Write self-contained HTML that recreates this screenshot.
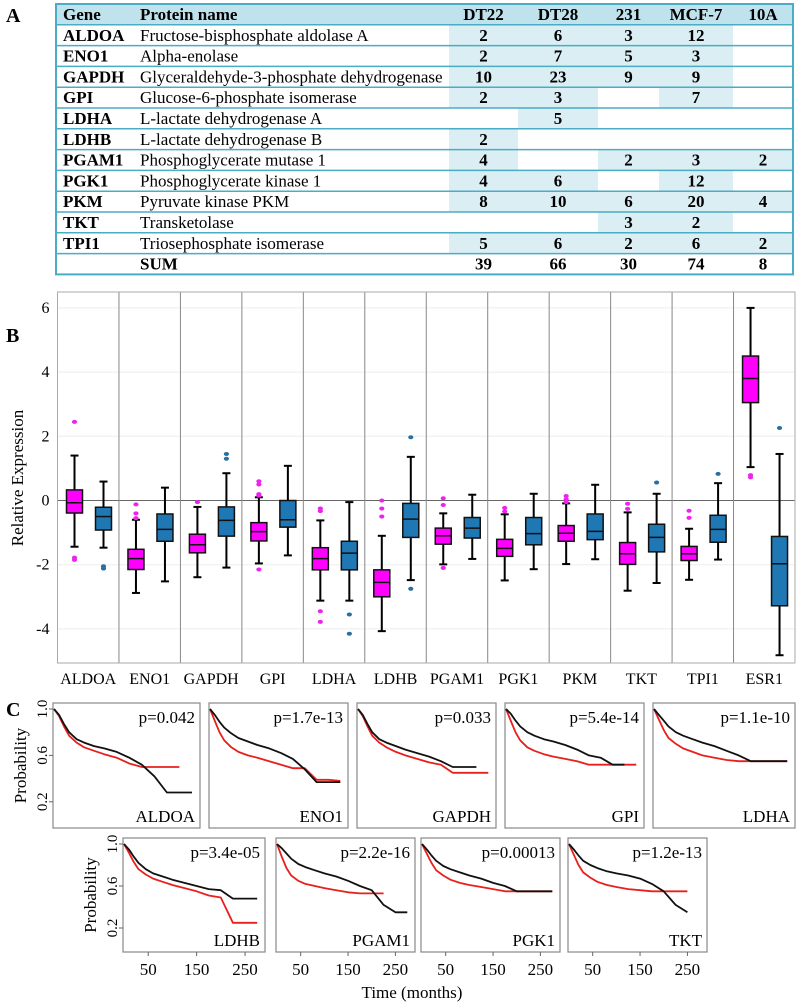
<!DOCTYPE html>
<html><head><meta charset="utf-8"><style>
body{margin:0;background:#fff;width:799px;height:1002px;overflow:hidden;font-family:"Liberation Serif","DejaVu Serif",serif}
svg{display:block}
text{font-family:"Liberation Serif","DejaVu Serif",serif}
</style></head><body>
<svg id="fig" width="799" height="1002" viewBox="0 0 799 1002" xmlns="http://www.w3.org/2000/svg" font-family="Liberation Serif, DejaVu Serif, serif">
<text x="6" y="22" font-size="20" font-weight="bold">A</text>
<text x="6" y="342" font-size="20" font-weight="bold">B</text>
<text x="6" y="716" font-size="20" font-weight="bold">C</text>
<g id="table"></g>
<g id="box"></g>
<g id="km"></g>
</svg>
<script>
const NS="http://www.w3.org/2000/svg";
function mk(p,tag,a,txt){const e=document.createElementNS(NS,tag);for(const k in a)e.setAttribute(k,a[k]);if(tag==='text')e.setAttribute('font-family','Liberation Serif, DejaVu Serif, serif');if(txt!==undefined)e.textContent=txt;p.appendChild(e);return e;}

// ---------- TABLE ----------
const tGenes=["ALDOA","ENO1","GAPDH","GPI","LDHA","LDHB","PGAM1","PGK1","PKM","TKT","TPI1"];
const tProteins=["Fructose-bisphosphate aldolase A","Alpha-enolase","Glyceraldehyde-3-phosphate dehydrogenase","Glucose-6-phosphate isomerase","L-lactate dehydrogenase A","L-lactate dehydrogenase B","Phosphoglycerate mutase 1","Phosphoglycerate kinase 1","Pyruvate kinase PKM","Transketolase","Triosephosphate isomerase"];
const tCols=["DT22","DT28","231","MCF-7","10A"];
const tVals=[[2,6,3,12,null],[2,7,5,3,null],[10,23,9,9,null],[2,3,null,7,null],[null,5,null,null,null],[2,null,null,null,null],[4,null,2,3,2],[4,6,null,12,null],[8,10,6,20,4],[null,null,3,2,null],[5,6,2,6,2]];
const tSums=[39,66,30,74,8];
(function(){
 const g=document.getElementById('table');
 const L=56,R=793,T=4,rh=20.8,fs=17,by=16;
 const cx=[449,518,598,659,733,793];
 mk(g,'rect',{x:L,y:T,width:R-L,height:rh,fill:'#bfe2ec'});
 let e=mk(g,'text',{x:63,y:T+by,'font-size':fs,'font-weight':'bold'},'Gene');
 e=mk(g,'text',{x:140,y:T+by,'font-size':fs,'font-weight':'bold'},'Protein name');
 tCols.forEach((c,i)=>{const t=mk(g,'text',{x:(cx[i]+cx[i+1])/2,y:T+by,'font-size':fs,'font-weight':'bold','text-anchor':'middle'},c);
  });
 tGenes.forEach((gn,r)=>{
  const y=T+rh*(r+1);
  tVals[r].forEach((v,i)=>{ if(v!==null){mk(g,'rect',{x:cx[i],y:y,width:cx[i+1]-cx[i],height:rh,fill:'#daeef3'});
    const t=mk(g,'text',{x:(cx[i]+cx[i+1])/2,y:y+by,'font-size':fs,'font-weight':'bold','text-anchor':'middle'},v);
    }});
  let t=mk(g,'text',{x:63,y:y+by,'font-size':fs,'font-weight':'bold'},gn);
  t=mk(g,'text',{x:140,y:y+by,'font-size':fs},tProteins[r]);
 });
 const ys=T+rh*12;
 let t=mk(g,'text',{x:140,y:ys+by,'font-size':fs,'font-weight':'bold'},'SUM');
 tSums.forEach((v,i)=>{const s=mk(g,'text',{x:(cx[i]+cx[i+1])/2,y:ys+by,'font-size':fs,'font-weight':'bold','text-anchor':'middle'},v);
  });
 for(let r=1;r<13;r++) mk(g,'line',{x1:L,x2:R,y1:T+rh*r,y2:T+rh*r,stroke:'#4bacc6','stroke-width':1.5});
 mk(g,'rect',{x:L,y:T,width:R-L,height:rh*13,fill:'none',stroke:'#4bacc6','stroke-width':2});
})();

// ---------- BOXPLOT ----------
const bGenes=["ALDOA","ENO1","GAPDH","GPI","LDHA","LDHB","PGAM1","PGK1","PKM","TKT","TPI1","ESR1"];
// [whiskerLow, q1, median, q3, whiskerHigh]
const bMagenta=[[-1.44,-0.39,-0.07,0.33,1.40],[-2.88,-2.15,-1.81,-1.52,-0.6],[-2.39,-1.63,-1.38,-1.05,-0.2],[-1.96,-1.26,-0.97,-0.69,0.1],[-3.12,-2.16,-1.81,-1.47,-0.62],[-4.07,-3.0,-2.55,-2.16,-1.1],[-1.99,-1.36,-1.1,-0.86,-0.4],[-2.49,-1.74,-1.49,-1.21,-0.43],[-1.98,-1.27,-1.02,-0.78,-0.09],[-2.81,-1.99,-1.66,-1.31,-0.37],[-2.47,-1.87,-1.66,-1.43,-0.88],[1.04,3.05,3.8,4.5,6.0]];
const bBlue=[[-1.47,-0.92,-0.5,-0.21,0.59],[-2.52,-1.27,-0.9,-0.42,0.4],[-2.09,-1.11,-0.62,-0.2,0.85],[-1.71,-0.83,-0.6,0.0,1.08],[-3.12,-2.16,-1.64,-1.27,-0.05],[-2.48,-1.15,-0.58,-0.09,1.36],[-1.82,-1.17,-0.86,-0.53,0.18],[-2.14,-1.38,-1.03,-0.53,0.21],[-1.83,-1.22,-0.96,-0.42,0.49],[-2.57,-1.6,-1.15,-0.74,0.21],[-1.84,-1.3,-0.9,-0.46,0.54],[-4.82,-3.28,-1.97,-1.12,1.45]];
const bOutMagenta=[[2.45,-1.78,-1.85],[-0.12,-0.4,-0.55],[-0.05],[0.15,0.2,0.5,0.6,-2.15],[-0.25,-0.33,-3.45,-3.78],[0,-0.25,-0.5],[0.07,-0.14,-2.1],[-0.23,-0.34],[0.14,0.04,-0.05],[-0.1,-0.26],[-0.32,-0.54],[0.79,0.72]];
const bOutBlue=[[-2.05,-2.12],[],[1.3,1.45],[],[-3.55,-4.15],[1.97,-2.75],[],[],[],[0.56],[0.83],[2.26]];
const bTicks=[6,4,2,0,-2,-4];
(function(){
 const g=document.getElementById('box');
 const L=57.5,R=795,T=292,B=663,gw=(R-L)/bGenes.length;
 const y=v=>500.5-v*32.1;
 bTicks.forEach(v=>{ if(v!==0) mk(g,'line',{x1:L,x2:R,y1:y(v),y2:y(v),stroke:'#eeeeee','stroke-width':1});
  const t=mk(g,'text',{x:L-8,y:y(v)+5,'font-size':16,'text-anchor':'end'},v);
  });
 mk(g,'line',{x1:L,x2:R,y1:y(0),y2:y(0),stroke:'#666','stroke-width':1});
 for(let i=1;i<bGenes.length;i++) mk(g,'line',{x1:L+gw*i,x2:L+gw*i,y1:T,y2:B,stroke:'#888','stroke-width':1});
 mk(g,'rect',{x:L,y:T,width:R-L,height:B-T,fill:'none',stroke:'#aaa','stroke-width':1});
 let t=mk(g,'text',{x:0,y:0,'font-size':17,'text-anchor':'middle',transform:'translate(23,478) rotate(-90)'},'Relative Expression');
 
 function drawBox(s,cx,fill,outs,col,name){
  const bw=16;
  const grp=mk(g,'g',{});
  
  mk(grp,'line',{x1:cx,x2:cx,y1:y(s[0]),y2:y(s[4]),stroke:'#000','stroke-width':2});
  mk(grp,'line',{x1:cx-4,x2:cx+4,y1:y(s[0]),y2:y(s[0]),stroke:'#000','stroke-width':2});
  mk(grp,'line',{x1:cx-4,x2:cx+4,y1:y(s[4]),y2:y(s[4]),stroke:'#000','stroke-width':2});
  mk(grp,'rect',{x:cx-bw/2,y:y(s[3]),width:bw,height:y(s[1])-y(s[3]),fill:fill,stroke:'#111','stroke-width':1.5});
  mk(grp,'line',{x1:cx-bw/2,x2:cx+bw/2,y1:y(s[2]),y2:y(s[2]),stroke:'#111','stroke-width':1.5});
  outs.forEach(o=>mk(grp,'ellipse',{cx:cx,cy:y(o),rx:2.6,ry:2,fill:col}));
 }
 bGenes.forEach((gn,i)=>{
  const x0=L+gw*i;
  drawBox(bMagenta[i],x0+17,'#ff00ff',bOutMagenta[i],'#ee22ee','box-'+gn.toLowerCase()+'-magenta');
  drawBox(bBlue[i],x0+46,'#1f77b4',bOutBlue[i],'#2a6f9f','box-'+gn.toLowerCase()+'-blue');
  const lt=mk(g,'text',{x:x0+gw/2,y:684,'font-size':16,'text-anchor':'middle'},gn);
  
 });
})();

// ---------- KM PLOTS ----------
const kmTimes=[0,10,20,30,45,60,80,100,125,150,175,200,225,250,275];
const kmGenes=["ALDOA","ENO1","GAPDH","GPI","LDHA","LDHB","PGAM1","PGK1","TKT"];
const kmP=["p=0.042","p=1.7e-13","p=0.033","p=5.4e-14","p=1.1e-10","p=3.4e-05","p=2.2e-16","p=0.00013","p=1.2e-13"];
const kmBlack=[[1,.95,.87,.80,.74,.71,.68,.66,.63,.58,.52,.42,.28,.28,.28],[1,.95,.89,.84,.79,.75,.72,.69,.66,.62,.57,.48,.37,.37,.37],[1,.95,.87,.80,.74,.71,.68,.65,.62,.59,.55,.5,.5,.5,null],[1,.96,.9,.85,.8,.77,.74,.72,.69,.65,.6,.58,.52,.52,null],[1,.95,.9,.85,.8,.77,.74,.71,.68,.64,.6,.55,.55,.55,.55],[1,.95,.88,.82,.76,.72,.69,.66,.63,.6,.57,.56,.48,.48,.48],[1,.96,.91,.86,.81,.78,.75,.72,.69,.65,.6,.56,.42,.35,.35],[1,.95,.89,.84,.79,.76,.73,.7,.67,.63,.6,.55,.55,.55,.55],[1,.95,.89,.84,.8,.77,.74,.72,.7,.67,.62,.55,.42,.35,null]];
const kmRed=[[1,.94,.85,.77,.71,.67,.64,.61,.58,.53,.50,.50,.50,.50,null],[1,.90,.80,.73,.67,.63,.60,.58,.55,.52,.49,.49,.39,.39,.38],[1,.94,.85,.77,.71,.67,.63,.6,.57,.54,.52,.45,.45,.45,.45],[1,.9,.8,.73,.67,.64,.61,.59,.57,.55,.52,.52,.52,.52,.52],[1,.91,.82,.75,.7,.66,.63,.6,.58,.56,.55,.55,.55,.55,.55],[1,.92,.83,.76,.71,.67,.64,.61,.58,.55,.51,.49,.25,.25,.25],[1,.88,.77,.7,.65,.62,.6,.58,.56,.54,.53,.53,.53,null,null],[1,.91,.82,.75,.7,.66,.63,.61,.59,.57,.55,.55,.55,.55,.55],[1,.9,.8,.73,.68,.64,.61,.59,.57,.56,.55,.55,.55,.55,null]];
const kmXTicks=[50,150,250];
const kmYTicks=[1.0,0.6,0.2];
(function(){
 const g=document.getElementById('km');
 const frames=[[53,703,147,125],[209,703,139,125],[357,703,139,125],[505,703,139,125],[653,703,142,125],
               [123,838,142,114],[276,838,139,114],[421,838,139,114],[568,838,139,114]];
 frames.forEach((f,k)=>{
  const [fx,fy,fw,fh]=f;
  const grp=mk(g,'g',{});
  
  const xs=t=>fx+1+t*(fw-4)/285;
  const y1=fy+6, yscale=fh-9;
  const ys=v=>y1+(1-v)*yscale;
  mk(grp,'rect',{x:fx,y:fy,width:fw,height:fh,fill:'#fff',stroke:'#888','stroke-width':1.2});
  [[kmRed[k],'#e8201c'],[kmBlack[k],'#111']].forEach(([arr,c])=>{
   let d='';let prev=null;
   arr.forEach((v,i)=>{ if(v===null)return; const X=xs(kmTimes[i]),Y=ys(v);
     d+=(prev===null?'M':'L')+X.toFixed(1)+','+Y.toFixed(1)+' '; prev=v;});
   const p=mk(grp,'path',{d:d,fill:'none',stroke:c,'stroke-width':1.8,'stroke-linejoin':'round'});
   
  });
  let t=mk(grp,'text',{x:fx+fw-5,y:fy+20,'font-size':17,'text-anchor':'end'},kmP[k]);
  
  t=mk(grp,'text',{x:fx+fw-5,y:fy+fh-6,'font-size':17,'text-anchor':'end'},kmGenes[k]);
  
  const firstInRow=(k===0||k===5);
  if(firstInRow){
   kmYTicks.forEach(v=>{
    mk(grp,'line',{x1:fx-4,x2:fx,y1:ys(v),y2:ys(v),stroke:'#666'});
    const tt=mk(grp,'text',{x:0,y:0,'font-size':15,'text-anchor':'middle',transform:`translate(${fx-6},${ys(v)}) rotate(-90)`},v.toFixed(1));
    
   });
   const pl=mk(grp,'text',{x:0,y:0,'font-size':17,'text-anchor':'middle',transform:`translate(${fx-27},${fy+fh/2}) rotate(-90)`},'Probability');
   
  }
  if(k>=5){
   kmXTicks.forEach(v=>{
    mk(grp,'line',{x1:xs(v),x2:xs(v),y1:fy+fh,y2:fy+fh+4,stroke:'#666'});
    const tt=mk(grp,'text',{x:xs(v),y:fy+fh+23,'font-size':17,'text-anchor':'middle'},v);
    
   });
  }
 });
 const tl=mk(g,'text',{x:412,y:998,'font-size':17,'text-anchor':'middle'},'Time (months)');
 
})();
</script>
</body></html>
